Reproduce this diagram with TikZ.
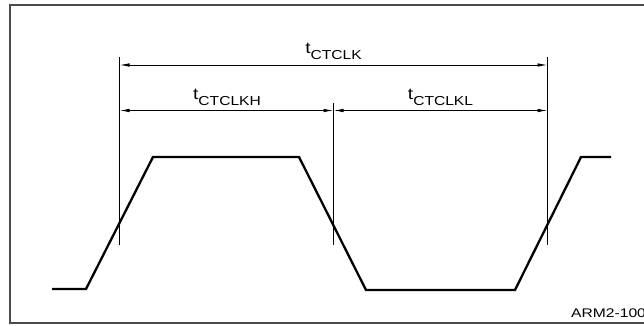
\documentclass[tikz,border=0pt]{standalone}
\usepackage{fontspec}
\setmainfont{Liberation Sans}
\usetikzlibrary{arrows.meta}

\tikzset{
  wave/.style={line width=2.3pt, line join=miter},
  guide/.style={line width=0.8pt},
  dim/.style={line width=0.8pt, {Latex[length=10pt,width=3.5pt]}-{Latex[length=10pt,width=3.5pt]}},
  tlab/.style={anchor=base, inner sep=0pt},
}
\newcommand{\tname}[1]{\scalebox{1.2}[1]{\fontsize{16}{18}\selectfont t\raisebox{-6pt}{\fontsize{13}{15}\selectfont #1}}}

\begin{document}
\begin{tikzpicture}[x=1pt,y=-1pt]
\useasboundingbox (0,0) rectangle (644,326);
\clip (0,0) rectangle (644,326);

% Frame
\draw[gray!60!black, line width=1.3pt] (10,5) rectangle (660,323);

% Clock waveform
\draw[wave] (52,289) -- (86,289) -- (153,157) -- (299,157) -- (366,290)
  -- (515,290) -- (581,157) -- (611,157);

% Reference lines
\coordinate (riseA top) at (119.5,57);
\coordinate (riseA bot) at (119.5,245);
\coordinate (fall top) at (333.5,103);
\coordinate (fall bot) at (333.5,245);
\coordinate (riseB top) at (547.5,57);
\coordinate (riseB bot) at (547.5,245);
\draw[guide] (riseA top) -- (riseA bot);
\draw[guide] (fall top) -- (fall bot);
\draw[guide] (riseB top) -- (riseB bot);

% Dimension arrows
\draw[dim] (riseA top |- 0,65) -- (riseB top |- 0,65);
\draw[dim] (riseA top |- 0,110.5) -- (fall top |- 0,110.5);
\draw[dim] (fall top |- 0,110.5) -- (riseB top |- 0,110.5);

% Labels
\node[tlab] (period) at (333.5,53.5) {\tname{CTCLK}};
\node[tlab] (high) at (227,99.5) {\tname{CTCLKH}};
\node[tlab] (low) at (440.5,99.5) {\tname{CTCLKL}};
\node[anchor=base west, inner sep=0pt] (figid) at (571,317)
  {\scalebox{1.25}[1]{\fontsize{12.5}{14}\selectfont ARM2-100}};
\end{tikzpicture}
\end{document}
